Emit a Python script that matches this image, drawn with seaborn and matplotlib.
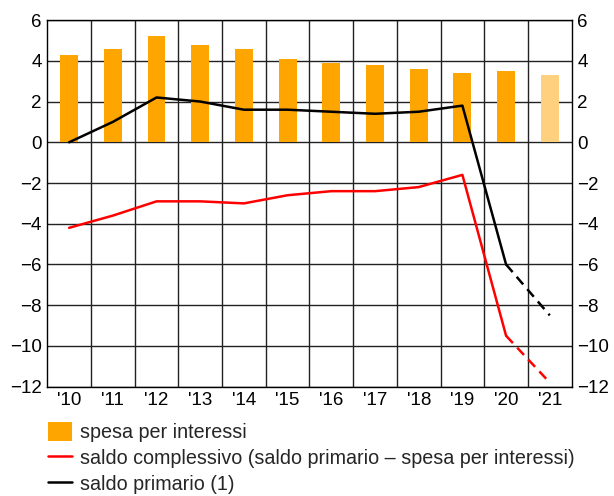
import numpy as np
import pandas as pd
import matplotlib
matplotlib.use("Agg")
import matplotlib.pyplot as plt
from matplotlib.patches import Patch
from matplotlib.lines import Line2D
import seaborn as sns

# Data (percent of GDP)
years = ["'10", "'11", "'12", "'13", "'14", "'15", "'16", "'17", "'18", "'19", "'20", "'21"]
spesa_interessi = [4.3, 4.6, 5.2, 4.8, 4.6, 4.1, 3.9, 3.8, 3.6, 3.4, 3.5, 3.3]
saldo_complessivo = [-4.2, -3.6, -2.9, -2.9, -3.0, -2.6, -2.4, -2.4, -2.2, -1.6, -9.5, -11.8]
saldo_primario = [0.0, 1.0, 2.2, 2.0, 1.6, 1.6, 1.5, 1.4, 1.5, 1.8, -6.0, -8.5]
n_actual = 11  # last year is a forecast
y_ticks = [6, 4, 2, 0, -2, -4, -6, -8, -10, -12]

sns.set_theme(style="white")
plt.rcParams["font.family"] = ["Liberation Sans", "DejaVu Sans"]

ORANGE = "#FFA500"
ORANGE_LIGHT = "#FFD17F"

fig = plt.figure(figsize=(6.14, 4.96), dpi=100)
ax = fig.add_axes([0.077, 0.2204, 0.854, 0.7391])

df = pd.DataFrame({"anno": years, "spesa": spesa_interessi})
bar_colors = [ORANGE] * n_actual + [ORANGE_LIGHT] * (len(years) - n_actual)
sns.barplot(data=df, x="anno", y="spesa", hue="anno", palette=bar_colors,
            legend=False, width=0.41, saturation=1, linewidth=0,
            edgecolor="none", ax=ax, zorder=2)

pos = np.arange(len(years))
for series, color in [(saldo_complessivo, "#FF0000"), (saldo_primario, "#000000")]:
    s = np.array(series)
    sns.lineplot(x=pos[:n_actual], y=s[:n_actual], color=color, lw=1.8, ax=ax, zorder=3)
    sns.lineplot(x=pos[n_actual - 1:], y=s[n_actual - 1:], color=color, lw=1.8,
                 ax=ax, zorder=3, dashes=False, linestyle=(0, (4, 2.5)))

ax.set_xlim(-0.5, len(years) - 0.5)
ax.set_ylim(-12, 6)
ax.set_yticks(y_ticks)
ax.set_xticks(pos)
ax.set_xticklabels(years)
ax.set_xticks(pos[:-1] + 0.5, minor=True)
ax.set_xlabel("")
ax.set_ylabel("")

ax.grid(False)
ax.grid(axis="y", which="major", color="#222222", lw=1.0, zorder=0)
ax.grid(axis="x", which="minor", color="#222222", lw=1.0, zorder=0)
ax.set_axisbelow(True)
for sp in ax.spines.values():
    sp.set_color("black")
    sp.set_linewidth(1.0)
    sp.set_visible(True)

ax.tick_params(axis="both", which="both", length=0, labelsize=13.5, colors="black")
ax.tick_params(axis="y", labelright=True, pad=4)
ax.tick_params(axis="x", pad=4)

handles = [
    Patch(facecolor=ORANGE, edgecolor="none", label="spesa per interessi"),
    Line2D([], [], color="#FF0000", lw=1.8, label="saldo complessivo (saldo primario \u2013 spesa per interessi)"),
    Line2D([], [], color="#000000", lw=1.8, label="saldo primario (1)"),
]
fig.legend(handles=handles, loc="upper left", bbox_to_anchor=(0.078, 0.149),
           frameon=False, fontsize=14.2, handlelength=1.24, handleheight=1.1,
           handletextpad=0.41, labelspacing=0.3, borderaxespad=0, borderpad=0)

fig.savefig("out.png", dpi=100)
